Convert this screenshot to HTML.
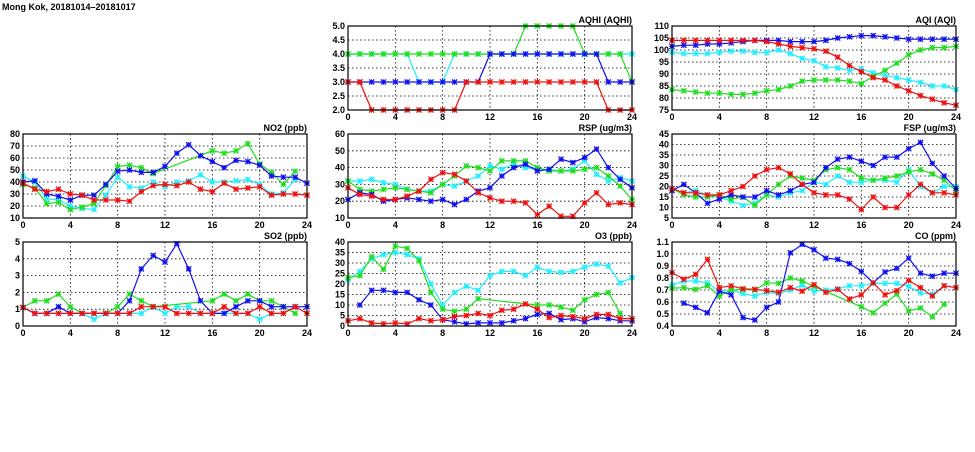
<!DOCTYPE html>
<html><head><meta charset="utf-8">
<style>
html,body{margin:0;padding:0;background:#fff;}
svg text{font-family:"Liberation Sans",sans-serif;font-weight:bold;font-size:9px;fill:#000;}
</style></head>
<body>
<svg id="chart" width="975" height="447" viewBox="0 0 975 447" xmlns="http://www.w3.org/2000/svg">
<text x="2" y="10" font-size="10">Mong Kok, 20181014–20181017</text>
</svg>
<script>
const hours = [0,1,2,3,4,5,6,7,8,9,10,11,12,13,14,15,16,17,18,19,20,21,22,23,24];
const xTicks = [0,4,8,12,16,20,24];
const seriesNames = ['cyan','green','blue','red'];
const seriesColors = ['#22eeff','#20dd20','#1010ee','#ee1010'];
const N = null;

const aqhiCyan = [4,4,4,4,4,4,3,3,3,4,4,4,4,4,4,4,4,4,4,4,4,4,4,4,4];
const aqhiGreen = [4,4,4,4,4,4,4,4,4,4,4,4,4,4,4,5,5,5,5,5,4,4,4,4,3];
const aqhiBlue = [3,3,3,3,3,3,3,3,3,3,3,3,4,4,4,4,4,4,4,4,4,4,3,3,3];
const aqhiRed = [3,3,2,2,2,2,2,2,2,2,3,3,3,3,3,3,3,3,3,3,3,3,2,2,2];
const aqhiTicks = [2.0,2.5,3.0,3.5,4.0,4.5,5.0];

const aqiCyan = [99,98.5,98.5,98.5,99,99.5,99.5,99,99,100,98.5,96.5,95.5,93,92.5,91.5,92,90.5,89.5,88.5,87.5,86.5,85,85,83.5];
const aqiGreen = [83.5,83,82.5,82,82,81.5,81.5,82,83,83.5,85,87,87.5,87.5,87.5,87,86,89,91.5,94.5,98,100,101,101,101.5];
const aqiBlue = [101.5,102,102,102.5,102.5,103,103.5,104,104,104,103.5,103.5,103.5,104,105,105.5,106,106,105.5,105,104.5,104.5,104.5,104.5,104.5];
const aqiRed = [104,104,104,104,104,104,104,104,103.5,102.5,101.5,101,100.5,99.5,97,93.5,91,88.5,87.5,85,83,81,79.5,78,77];
const aqiTicks = [75,80,85,90,95,100,105,110];

const no2Cyan = [45,40,26,25,20,18,17,29,44,36,35,40,36,40,41,46,40,40,41,42,38,30,31,42,N];
const no2Green = [38,35,22,23,17,19,22,37,53,54,52,47,N,N,N,N,66,64,66,72,55,48,38,49,N];
const no2Blue = [40,41,30,28,25,29,29,38,49,50,48,48,53,64,71,62,57,52,58,57,54,45,44,44,39];
const no2Red = [39,34,32,34,30,29,25,25,25,24,32,37,38,37,40,34,32,39,34,35,36,29,30,30,29];
const no2Ticks = [10,20,30,40,50,60,70,80];

const rspCyan = [32,32,33,31,30,27,26,26,30,29,32,35,41,39,42,40,39,39,38,39,44,36,32,34,32];
const rspGreen = [32,27,26,27,28,27,26,25,30,35,41,40,38,44,44,44,40,38,38,38,39,40,35,29,21];
const rspBlue = [21,25,24,20,21,22,21,20,21,18,21,26,28,35,40,42,38,39,45,43,46,51,40,33,28];
const rspRed = [28,24,23,21,21,23,26,33,37,36,32,25,22,20,20,19,12,17,11,11,19,25,18,19,18];
const rspTicks = [10,20,30,40,50,60];

const fspCyan = [19,17,18,16,15,13,11,12,16,15,17,18,22,21,25,22,22,23,23,22,28,20,17,20,20];
const fspGreen = [19,16,15,15,16,14,15,11,16,21,25,24,23,28,29,28,24,23,24,25,27,28,26,23,18];
const fspBlue = [18,21,17,12,14,16,15,15,18,16,18,21,22,29,33,34,32,30,34,34,38,41,31,25,19];
const fspRed = [19,17,17,16,16,18,20,25,28,29,26,21,17,16,16,14,9,15,10,10,16,21,17,17,16];
const fspTicks = [5,10,15,20,25,30,35,40,45];

const so2Cyan = [1.1,0.75,0.75,0.75,0.75,0.75,0.4,0.75,0.75,0.75,0.75,1.15,0.75,1.15,1.15,0.75,0.75,0.75,0.75,0.75,0.4,0.75,0.75,1.15,N];
const so2Green = [1.1,1.5,1.5,1.9,1.15,0.75,0.75,0.75,1.15,1.9,1.5,1.15,N,N,N,N,1.5,1.9,1.5,1.9,1.5,1.5,1.15,0.75,N];
const so2Blue = [1.1,0.75,0.75,1.15,0.75,0.75,0.75,0.75,0.75,1.5,3.4,4.2,3.8,4.9,3.4,1.5,0.75,0.75,1.15,1.5,1.5,1.15,1.15,1.15,1.15];
const so2Red = [1.1,0.75,0.75,0.75,0.75,0.75,0.75,0.75,0.75,0.75,1.15,1.15,1.15,0.75,0.75,0.75,0.75,1.15,0.75,0.75,1.15,0.75,0.75,1.15,0.75];
const so2Ticks = [0,1,2,3,4,5];

const o3Cyan = [22,26,32,34,35,34,32,20,10,16,19,17,24,26,26,24,28,26,25.5,26,28,29.5,28.5,20.5,23];
const o3Green = [23,24,33,27,38,37,31,16,8,7,8,13,N,N,N,N,10,10,9,7.5,12.5,15,16,6,N];
const o3Blue = [N,10,17,17,16,16,12.5,10,3,2,1,1.5,1.5,1.5,2.5,3.5,5.5,6,3,3.5,2,4,3.5,2.5,2.5];
const o3Red = [2.5,3.5,1.5,1,1.5,1,3.5,2.5,3,4.5,5,6,5,7.5,8,10.5,8,4,5,4.5,3.5,5.5,5.5,3.5,3.5];
const o3Ticks = [0,5,10,15,20,25,30,35,40];

const coCyan = [0.74,0.775,0.775,0.76,0.69,0.7,0.67,0.65,0.68,0.67,0.7,0.74,0.69,0.7,0.71,0.735,0.735,0.755,0.755,0.755,0.73,0.675,0.665,0.735,N];
const coGreen = [0.715,0.72,0.705,0.735,0.65,0.7,0.705,0.7,0.76,0.755,0.8,0.775,0.73,N,N,N,0.56,0.51,0.59,0.665,0.525,0.55,0.475,0.58,N];
const coBlue = [N,0.59,0.555,0.51,0.69,0.66,0.47,0.45,0.555,0.6,1.01,1.08,1.035,0.965,0.955,0.92,0.855,0.76,0.85,0.88,0.965,0.84,0.815,0.84,0.84];
const coRed = [0.845,0.79,0.83,0.955,0.72,0.735,0.71,0.705,0.695,0.68,0.72,0.69,0.745,0.68,0.705,0.625,0.66,0.76,0.66,0.695,0.78,0.72,0.65,0.735,0.72];
const coTicks = [0.4,0.5,0.6,0.7,0.8,0.9,1.0,1.1];

const panels = [
 {name:'aqhi', title:'AQHI (AQHI)', col:1, row:0, ticks:aqhiTicks, dec:1, series:[aqhiCyan,aqhiGreen,aqhiBlue,aqhiRed]},
 {name:'aqi', title:'AQI (AQI)', col:2, row:0, ticks:aqiTicks, dec:0, series:[aqiCyan,aqiGreen,aqiBlue,aqiRed]},
 {name:'no2', title:'NO2 (ppb)', col:0, row:1, ticks:no2Ticks, dec:0, series:[no2Cyan,no2Green,no2Blue,no2Red]},
 {name:'rsp', title:'RSP (ug/m3)', col:1, row:1, ticks:rspTicks, dec:0, series:[rspCyan,rspGreen,rspBlue,rspRed]},
 {name:'fsp', title:'FSP (ug/m3)', col:2, row:1, ticks:fspTicks, dec:0, series:[fspCyan,fspGreen,fspBlue,fspRed]},
 {name:'so2', title:'SO2 (ppb)', col:0, row:2, ticks:so2Ticks, dec:0, series:[so2Cyan,so2Green,so2Blue,so2Red]},
 {name:'o3', title:'O3 (ppb)', col:1, row:2, ticks:o3Ticks, dec:0, series:[o3Cyan,o3Green,o3Blue,o3Red]},
 {name:'co', title:'CO (ppm)', col:2, row:2, ticks:coTicks, dec:1, series:[coCyan,coGreen,coBlue,coRed]}
];
const colX = [23,348,672], rowY = [26,134,242], PW = 284, PH = 84;
const svg = document.getElementById('chart');
const NS = 'http://www.w3.org/2000/svg';
function mk(tag, attrs, parent){
  const e = document.createElementNS(NS, tag);
  for (const k in attrs) e.setAttribute(k, attrs[k]);
  (parent||svg).appendChild(e);
  return e;
}
panels.forEach(p=>{
  const x0 = colX[p.col], y0 = rowY[p.row];
  const ymin = p.ticks[0], ymax = p.ticks[p.ticks.length-1];
  const xs = h => x0 + h/24*PW;
  const ys = v => y0 + PH - (v-ymin)/(ymax-ymin)*PH;
  const g = mk('g', {});
  
  
  // grid
  p.ticks.forEach((t,i)=>{
    if (i>0 && i<p.ticks.length-1) mk('line',{x1:x0,x2:x0+PW,y1:ys(t),y2:ys(t),stroke:'#000','stroke-width':0.8,'stroke-dasharray':'1.5,2.5'},g);
    const lb = mk('text',{x:x0-3,y:ys(t)+3,'text-anchor':'end'},g);
    lb.textContent = t.toFixed(p.dec);
    
    
  });
  xTicks.forEach((t,i)=>{
    if (i>0 && i<xTicks.length-1) mk('line',{x1:xs(t),x2:xs(t),y1:y0,y2:y0+PH,stroke:'#000','stroke-width':0.8,'stroke-dasharray':'1.5,2.5'},g);
    const lb = mk('text',{x:xs(t),y:y0+PH+10,'text-anchor':'middle'},g);
    lb.textContent = t;
    
    
  });
  const ttl = mk('text',{x:x0+PW,y:y0-3,'text-anchor':'end'},g);
  ttl.textContent = p.title;
  
  
  // series
  p.series.forEach((arr,si)=>{
    const c = seriesColors[si];
    const pts = [];
    arr.forEach((v,i)=>{ if (v!==null) pts.push([xs(hours[i]), ys(v)]); });
    const pl = mk('polyline',{points:pts.map(q=>q[0].toFixed(1)+','+q[1].toFixed(1)).join(' '),fill:'none',stroke:c,'stroke-width':1.2},g);
    
    
    pts.forEach(q=>{
      const s = 2.6;
      const m = mk('path',{d:`M${q[0]-s},${q[1]}h${2*s}M${q[0]},${q[1]-s}v${2*s}M${q[0]-s},${q[1]-s}l${2*s},${2*s}M${q[0]-s},${q[1]+s}l${2*s},${-2*s}`,stroke:c,'stroke-width':1.2,fill:'none'},g);
      
      
    });
  });
  mk('rect',{x:x0,y:y0,width:PW,height:PH,fill:'none',stroke:'#000','stroke-width':1.2},g);
});
</script>
</body></html>
